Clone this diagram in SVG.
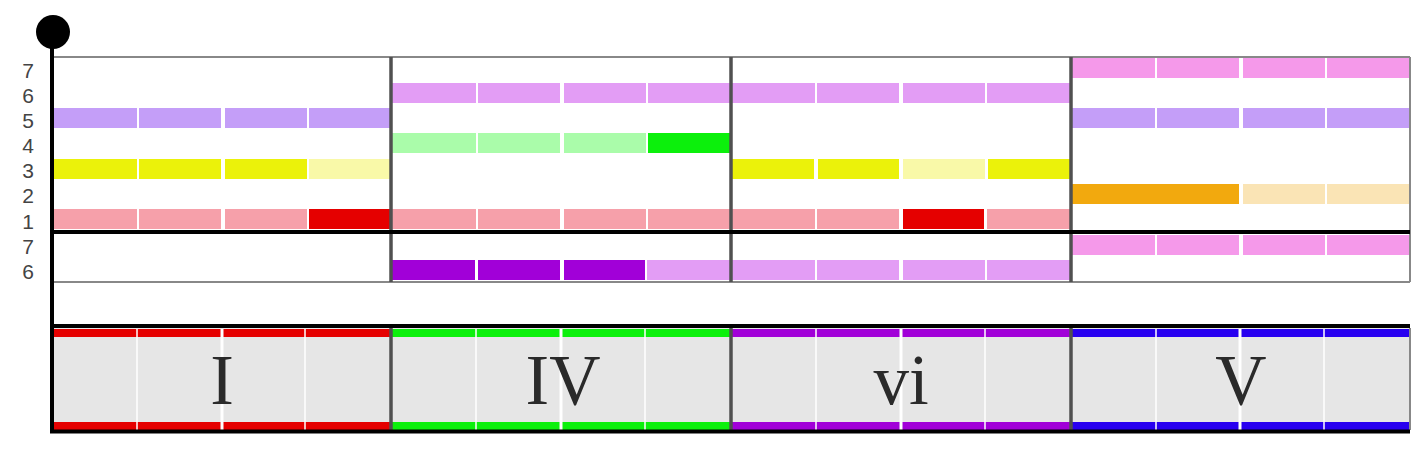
<svg xmlns="http://www.w3.org/2000/svg" width="1414" height="458" viewBox="0 0 1414 458">
<style>
.lbl{font-family:"Liberation Sans",Arial,sans-serif;font-size:21px;fill:#444;text-anchor:middle}
.rn{font-family:"Liberation Serif","Times New Roman",serif;font-size:71px;fill:#2a2a2a;text-anchor:middle}
.pu{fill:#c49ef8}.ye{fill:#ebf20a}.ly{fill:#f9f9a8}.pk{fill:#f6a0aa}.rd{fill:#e50000}
.vi{fill:#e39df5}.lg{fill:#aafcaa}.gr{fill:#0cf00c}.dp{fill:#a100d8}.mp{fill:#f599ea}
.or{fill:#f2a90e}.lo{fill:#fae4b5}
.cf{fill:#e6e6e6}
.div{stroke:#505050;stroke-width:3.5}
.wl{stroke:#fff;stroke-width:1.5}
.wm{stroke:#fff;stroke-width:3}
.thin{stroke:#888;stroke-width:2;fill:none}
.blk{stroke:#000;stroke-width:4}
</style>
<rect width="1414" height="458" fill="#fff"/>
<g id="labels">
<text class="lbl" x="28" y="78">7</text>
<text class="lbl" x="28" y="103">6</text>
<text class="lbl" x="28" y="128">5</text>
<text class="lbl" x="28" y="153">4</text>
<text class="lbl" x="28" y="178">3</text>
<text class="lbl" x="28" y="203">2</text>
<text class="lbl" x="28" y="229">1</text>
<text class="lbl" x="28" y="254">7</text>
<text class="lbl" x="28" y="279">6</text>
</g>
<g id="bar-I">
<rect class="pu" x="54" y="108" width="83" height="20"/><rect class="pu" x="139" y="108" width="82" height="20"/><rect class="pu" x="225" y="108" width="82" height="20"/><rect class="pu" x="309" y="108" width="82" height="20"/>
<rect class="ye" x="54" y="159" width="83" height="20"/><rect class="ye" x="139" y="159" width="82" height="20"/><rect class="ye" x="225" y="159" width="82" height="20"/><rect class="ly" x="309" y="159" width="82" height="20"/>
<rect class="pk" x="54" y="209" width="83" height="20"/><rect class="pk" x="139" y="209" width="82" height="20"/><rect class="pk" x="225" y="209" width="82" height="20"/><rect class="rd" x="309" y="209" width="82" height="20"/>
<rect class="cf" x="53" y="328" width="338" height="102"/>
<rect class="rd" x="53" y="329" width="338" height="8"/><rect class="rd" x="53" y="422" width="338" height="8"/>
<line class="wl" x1="137" y1="329" x2="137" y2="430"/><line class="wm" x1="222" y1="329" x2="222" y2="430"/><line class="wl" x1="305" y1="329" x2="305" y2="430"/>
<text class="rn" x="222" y="404">I</text>
</g>
<g id="bar-IV">
<rect class="vi" x="392" y="83" width="84" height="20"/><rect class="vi" x="478" y="83" width="82" height="20"/><rect class="vi" x="564" y="83" width="82" height="20"/><rect class="vi" x="648" y="83" width="82" height="20"/>
<rect class="lg" x="392" y="133" width="84" height="20"/><rect class="lg" x="478" y="133" width="82" height="20"/><rect class="lg" x="564" y="133" width="82" height="20"/><rect class="gr" x="648" y="133" width="82" height="20"/>
<rect class="pk" x="392" y="209" width="84" height="20"/><rect class="pk" x="478" y="209" width="82" height="20"/><rect class="pk" x="564" y="209" width="82" height="20"/><rect class="pk" x="648" y="209" width="82" height="20"/>
<rect class="dp" x="392" y="260" width="83" height="20"/><rect class="dp" x="478" y="260" width="82" height="20"/><rect class="dp" x="564" y="260" width="81" height="20"/><rect class="vi" x="647" y="260" width="83" height="20"/>
<rect class="cf" x="391" y="328" width="340" height="102"/>
<rect class="gr" x="391" y="329" width="340" height="8"/><rect class="gr" x="391" y="422" width="340" height="8"/>
<line class="wl" x1="476" y1="329" x2="476" y2="430"/><line class="wm" x1="561" y1="329" x2="561" y2="430"/><line class="wl" x1="645" y1="329" x2="645" y2="430"/>
<text class="rn" x="563" y="404">IV</text>
</g>
<g id="bar-vi">
<rect class="vi" x="732" y="83" width="83" height="20"/><rect class="vi" x="817" y="83" width="82" height="20"/><rect class="vi" x="903" y="83" width="82" height="20"/><rect class="vi" x="987" y="83" width="83" height="20"/>
<rect class="ye" x="732" y="159" width="82" height="20"/><rect class="ye" x="818" y="159" width="81" height="20"/><rect class="ly" x="903" y="159" width="82" height="20"/><rect class="ye" x="988" y="159" width="82" height="20"/>
<rect class="pk" x="732" y="209" width="83" height="20"/><rect class="pk" x="817" y="209" width="82" height="20"/><rect class="rd" x="903" y="209" width="81" height="20"/><rect class="pk" x="987" y="209" width="83" height="20"/>
<rect class="vi" x="732" y="260" width="83" height="20"/><rect class="vi" x="817" y="260" width="82" height="20"/><rect class="vi" x="903" y="260" width="82" height="20"/><rect class="vi" x="987" y="260" width="83" height="20"/>
<rect class="cf" x="731" y="328" width="340" height="102"/>
<rect class="dp" x="731" y="329" width="340" height="8"/><rect class="dp" x="731" y="422" width="340" height="8"/>
<line class="wl" x1="816" y1="329" x2="816" y2="430"/><line class="wm" x1="901" y1="329" x2="901" y2="430"/><line class="wl" x1="985" y1="329" x2="985" y2="430"/>
<text class="rn" x="901" y="404">vi</text>
</g>
<g id="bar-V">
<rect class="mp" x="1072" y="58" width="83" height="20"/><rect class="mp" x="1157" y="58" width="82" height="20"/><rect class="mp" x="1243" y="58" width="82" height="20"/><rect class="mp" x="1327" y="58" width="83" height="20"/>
<rect class="pu" x="1072" y="108" width="83" height="20"/><rect class="pu" x="1157" y="108" width="82" height="20"/><rect class="pu" x="1243" y="108" width="82" height="20"/><rect class="pu" x="1327" y="108" width="83" height="20"/>
<rect class="or" x="1072" y="184" width="167" height="20"/><rect class="lo" x="1243" y="184" width="82" height="20"/><rect class="lo" x="1327" y="184" width="83" height="20"/>
<rect class="mp" x="1072" y="235" width="83" height="20"/><rect class="mp" x="1157" y="235" width="82" height="20"/><rect class="mp" x="1243" y="235" width="82" height="20"/><rect class="mp" x="1327" y="235" width="83" height="20"/>
<rect class="cf" x="1071" y="328" width="339" height="102"/>
<rect fill="#2800f0" x="1071" y="329" width="339" height="8"/><rect fill="#2800f0" x="1071" y="422" width="339" height="8"/>
<line class="wl" x1="1156" y1="329" x2="1156" y2="430"/><line class="wm" x1="1240" y1="329" x2="1240" y2="430"/><line class="wl" x1="1324" y1="329" x2="1324" y2="430"/>
<text class="rn" x="1241" y="404">V</text>
</g>
<g id="grid">
<line class="thin" x1="53" y1="57" x2="1410" y2="57"/>
<line class="thin" x1="53" y1="282" x2="1410" y2="282"/>
<line class="thin" x1="1410" y1="57" x2="1410" y2="282"/>
<line class="thin" x1="1410" y1="328" x2="1410" y2="430" stroke-width="1.5"/>
<line class="div" x1="391" y1="57" x2="391" y2="282"/><line class="div" x1="731" y1="57" x2="731" y2="282"/><line class="div" x1="1071" y1="57" x2="1071" y2="282"/>
<line class="div" x1="391" y1="328" x2="391" y2="430"/><line class="div" x1="731" y1="328" x2="731" y2="430"/><line class="div" x1="1071" y1="328" x2="1071" y2="430"/>
</g>
<g id="connectors">
<line class="blk" x1="50" y1="232" x2="1410" y2="232"/>
<line class="blk" x1="50" y1="326" x2="1410" y2="326" stroke-width="3.5"/>
<line class="blk" x1="50" y1="431.5" x2="1410" y2="431.5" stroke-width="3.5"/>
<line class="blk" x1="52" y1="32" x2="52" y2="433"/>
<circle cx="53" cy="32" r="17" fill="#000"/>
</g>
</svg>
